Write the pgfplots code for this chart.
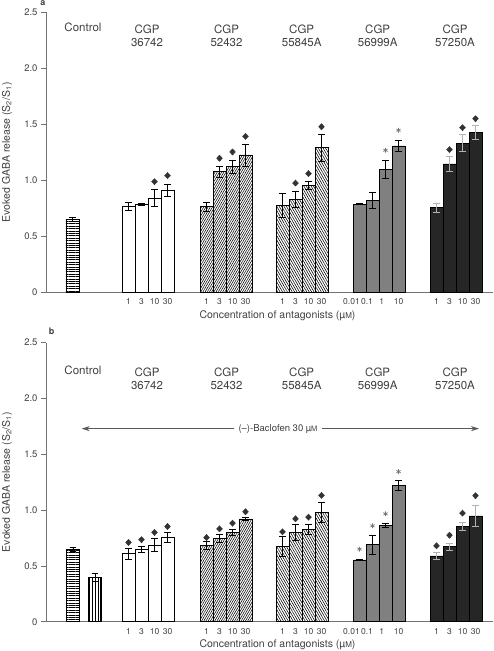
\documentclass[border=0pt]{standalone}
\usepackage{fontspec}
\setmainfont{TeX Gyre Heros}
\usepackage{pgfplots}
\pgfplotsset{compat=1.18}
\usetikzlibrary{patterns.meta,arrows.meta}
\definecolor{txt}{gray}{0.25}
\definecolor{axc}{gray}{0.45}
\tikzset{grp/.style={font=\fontsize{11.5}{13}\selectfont, text=txt, align=center}}
\pgfplotsset{
  panel/.style={
    scale only axis, width=447pt,
    xmin=0, xmax=447, ymin=0, ymax=2.5,
    axis x line=bottom, axis y line=left,
    axis line style={-, axc, line width=0.8pt},
    ytick={0,0.5,1,1.5,2,2.5},
    yticklabels={0,0.5,1.0,1.5,2.0,2.5},
    tick align=outside, major tick length=5pt,
    ytick style={axc, line width=0.8pt},
    xtick style={draw=none},
    xtick={82.5,95.5,108.5,121.5,160.5,173.5,186.5,199.5,236.5,249.5,262.5,275.5,305.5,321,335.7,352.5,390.5,403.5,416.5,429.5},
    xticklabels={1,3,10,30,1,3,10,30,1,3,10,30,0.01,0.1,1,10,1,3,10,30},
    /pgf/number format/assume math mode=true,
    yticklabel style={font=\fontsize{9.5}{10}\selectfont, text=txt},
    xticklabel style={font=\fontsize{8.5}{9}\selectfont, text=txt, yshift=2pt},
    clip=false,
    every axis y label/.style={at={(rel axis cs:0,0.5)}, xshift=-39pt, rotate=90, anchor=center, font=\fontsize{10.5}{12}\selectfont, text=txt},
    every axis x label/.style={at={(axis cs:231.5,0)}, yshift=-23pt, anchor=center, font=\fontsize{10.5}{12}\selectfont, text=txt},
    ylabel={Evoked GABA release (S\textsubscript{2}/S\textsubscript{1})},
    xlabel={Concentration of antagonists (µ{\fontsize{8}{8}\selectfont M})},
  },
  bars/.style={ybar, bar width=13, bar shift=0pt, draw=black, line width=0.55pt},
  errb/.style={error bars/.cd, y dir=both, y explicit,
    error bar style={#1, line width=0.6pt},
    error mark options={rotate=90, mark size=3.4pt, #1, line width=0.6pt}},
  dia/.style={only marks, mark=diamond*, mark size=3.1pt, black!80, mark options={xscale=1.25}},
  ast/.style={only marks, mark=asterisk, mark size=2.4pt, black!55, mark options={line width=0.7pt}},
}
\begin{document}
\begin{tikzpicture}
% ---------------- panel a ----------------
\begin{axis}[panel, height=280pt, at={(0,0)}, anchor=south west]
\addplot[bars, pattern={Lines[angle=0,distance=2.4pt,line width=0.9pt]}, errb=black]
  coordinates {(26.5,0.652) +- (0,0.02)};
\addplot[bars, fill=white, errb=black] coordinates {
  (82.5,0.767) +- (0,0.033) (95.5,0.784) +- (0,0.01) (108.5,0.842) +- (0,0.076) (121.5,0.911) +- (0,0.057)};
\addplot[bars, pattern={Lines[angle=60,distance=1.9pt,line width=0.55pt]}, errb=black] coordinates {
  (160.5,0.767) +- (0,0.04) (173.5,1.078) +- (0,0.049) (186.5,1.121) +- (0,0.062) (199.5,1.226) +- (0,0.098)};
\addplot[bars, pattern={Lines[angle=-60,distance=2.1pt,line width=0.55pt]}, errb=black] coordinates {
  (236.5,0.777) +- (0,0.104) (249.5,0.83) +- (0,0.075) (262.5,0.955) +- (0,0.033) (275.5,1.291) +- (0,0.122)};
\addplot[bars, fill=black!50, errb=black] coordinates {
  (313.5,0.788) +- (0,0.005) (326.5,0.823) +- (0,0.074) (339.5,1.099) +- (0,0.077) (352.5,1.307) +- (0,0.05)};
\addplot[bars, fill=black!85, errb=black!30] coordinates {
  (390.5,0.756) +- (0,0.042) (403.5,1.146) +- (0,0.066) (416.5,1.332) +- (0,0.075) (429.5,1.428) +- (0,0.06)};
\addplot[dia] coordinates {(108.5,0.988) (121.5,1.042) (173.5,1.197) (186.5,1.253) (199.5,1.392)
  (249.5,0.975) (262.5,1.06) (275.5,1.478) (403.5,1.274) (416.5,1.47) (429.5,1.55)};
\addplot[ast] coordinates {(339.5,1.268) (352.5,1.447)};
\node[grp] at (axis cs:37,2.29) {Control\\\strut};
\node[grp] at (axis cs:101,2.29) {CGP\\36742};
\node[grp] at (axis cs:180.5,2.29) {CGP\\52432};
\node[grp] at (axis cs:255.7,2.29) {CGP\\55845A};
\node[grp] at (axis cs:331.7,2.29) {CGP\\56999A};
\node[grp] at (axis cs:409,2.29) {CGP\\57250A};
\node[font=\bfseries\fontsize{9}{9}\selectfont, text=txt] at (axis cs:-3,2.5) [yshift=9pt] {a};
\end{axis}
% ---------------- panel b ----------------
\begin{axis}[panel, height=279pt, at={(0,-329.4pt)}, anchor=south west]
\addplot[bars, pattern={Lines[angle=0,distance=2.4pt,line width=0.9pt]}, errb=black]
  coordinates {(27,0.647) +- (0,0.02)};
\addplot[bars, pattern={Lines[angle=90,distance=2.8pt,line width=0.7pt]}, errb=black]
  coordinates {(49,0.398) +- (0,0.036)};
\addplot[bars, fill=white, errb=black] coordinates {
  (82.5,0.611) +- (0,0.048) (95.5,0.647) +- (0,0.027) (108.5,0.686) +- (0,0.058) (121.5,0.754) +- (0,0.044)};
\addplot[bars, pattern={Lines[angle=60,distance=1.9pt,line width=0.55pt]}, errb=black] coordinates {
  (160.5,0.686) +- (0,0.033) (173.5,0.749) +- (0,0.036) (186.5,0.802) +- (0,0.03) (199.5,0.922) +- (0,0.016)};
\addplot[bars, pattern={Lines[angle=-60,distance=2.1pt,line width=0.55pt]}, errb=black] coordinates {
  (236.5,0.674) +- (0,0.09) (249.5,0.80) +- (0,0.07) (262.5,0.829) +- (0,0.045) (275.5,0.982) +- (0,0.09)};
\addplot[bars, fill=black!50, errb=black] coordinates {
  (313.5,0.554) +- (0,0.006) (326.5,0.692) +- (0,0.084) (339.5,0.865) +- (0,0.018) (352.5,1.222) +- (0,0.044)};
\addplot[bars, fill=black!85, errb=black!30] coordinates {
  (390.5,0.59) +- (0,0.03) (403.5,0.674) +- (0,0.03) (416.5,0.853) +- (0,0.035) (429.5,0.949) +- (0,0.096)};
\addplot[dia] coordinates {(82.5,0.71) (95.5,0.735) (108.5,0.80) (121.5,0.853)
  (160.5,0.754) (173.5,0.832) (186.5,0.883) (199.5,0.985)
  (236.5,0.805) (249.5,0.922) (262.5,0.937) (275.5,1.132)
  (390.5,0.68) (403.5,0.775) (416.5,0.973) (429.5,1.129)};
\addplot[ast] coordinates {(313.5,0.65) (326.5,0.859) (339.5,0.967) (352.5,1.345)};
\node[grp] at (axis cs:37,2.18) {Control\\\strut};
\node[grp] at (axis cs:101,2.18) {CGP\\36742};
\node[grp] at (axis cs:180.5,2.18) {CGP\\52432};
\node[grp] at (axis cs:255.7,2.18) {CGP\\55845A};
\node[grp] at (axis cs:331.7,2.18) {CGP\\56999A};
\node[grp] at (axis cs:409,2.18) {CGP\\57250A};
\draw[{Stealth[length=8pt,width=5pt]}-{Stealth[length=8pt,width=5pt]}, black!65, line width=0.6pt]
  (axis cs:35.7,1.73) -- (axis cs:433,1.73);
\node[fill=white, inner xsep=5pt, font=\fontsize{9.5}{10}\selectfont, text=txt] at (axis cs:232,1.73) {(–)-Baclofen 30 µ{\fontsize{7.5}{8}\selectfont M}};
\node[font=\bfseries\fontsize{9}{9}\selectfont, text=txt] at (axis cs:5.7,2.5) [yshift=11pt] {b};
\end{axis}
\pgfresetboundingbox
\path (-46pt,-358.7pt) rectangle (447pt,292.3pt);
\end{tikzpicture}
\end{document}
